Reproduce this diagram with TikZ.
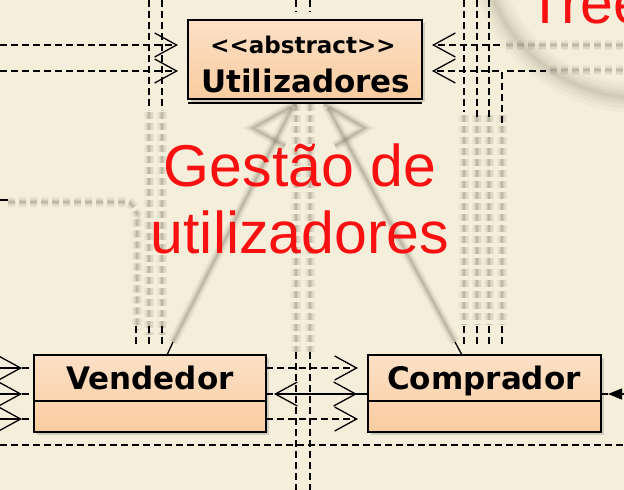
\documentclass[tikz,border=0pt]{standalone}
\usepackage{fontspec}
\setmainfont{Liberation Sans}
\newfontfamily\umlfont{DejaVu Sans}
\usetikzlibrary{arrows.meta,shadows,calc}
\definecolor{bg}{RGB}{245,238,218}
\definecolor{classtop}{RGB}{252,224,198}
\definecolor{classbot}{RGB}{249,204,160}
\definecolor{redtxt}{RGB}{250,16,16}
\definecolor{fuzzc}{RGB}{110,104,88}
\newcommand\fzline[2][]{\foreach \fw/\fo in {10/0.07,7/0.09,4/0.13,2/0.17}{\draw[fuzzc,line width=\fw pt,draw opacity=\fo,#1] #2;}}
\newcommand\fzring[1]{\foreach \fw/\fo in {30/0.04,22/0.05,14/0.06,8/0.07,3/0.07}{\draw[fuzzc,line width=\fw pt,draw opacity=\fo] #1;}}
\tikzset{
  dl/.style={line width=1.3pt, dash pattern=on 7pt off 4pt},
  sl/.style={line width=1.3pt},
  oarr/.style={-{Straight Barb[length=22pt,width=24pt,line width=1.3pt]}},
  farr/.style={-{Stealth[length=14pt,width=11pt,inset=0pt]}},
  umlclass/.style={draw=black, line width=1.6pt, top color=classtop, bottom color=classbot,
    inner sep=0pt, outer sep=0pt,
    drop shadow={opacity=0.3, shadow xshift=3pt, shadow yshift=-3pt}},
  umlname/.style={font=\umlfont\bfseries\fontsize{31}{36}\selectfont, inner sep=0pt},
  umlstereo/.style={font=\umlfont\bfseries\fontsize{23}{26}\selectfont, inner sep=0pt},
  bigred/.style={font=\fontsize{59}{67}\selectfont, text=redtxt, inner sep=0pt},
}
\begin{document}
\begin{tikzpicture}[x=1pt,y=-1pt]
\useasboundingbox (0,0) rectangle (624,490);
\clip (0,0) rectangle (624,490);
\fill[bg] (0,0) rectangle (624,490);

% lens circle top right (soft edge)
\fzring{(640,-60) circle (158)}

% blurred (out of focus) parts
\fzline[dash pattern=on 7pt off 4pt]{(149,112) -- (149,335)}
\fzline[dash pattern=on 7pt off 4pt]{(162,112) -- (162,335)}
\fzline[dash pattern=on 7pt off 4pt]{(8,202) -- (128,202) to[out=0,in=-90] (137,212) -- (137,330)}
\fzline[dash pattern=on 7pt off 4pt]{(296,104) -- (296,352)}
\fzline[dash pattern=on 7pt off 4pt]{(310,104) -- (310,352)}
\foreach \xx in {464,477,489,502}{\fzline[dash pattern=on 7pt off 4pt]{(\xx,115) -- (\xx,325)}}
\fzline{(173,342) -- (292,108)}
\fzline{(455,342) -- (328,108)}
\fzline{(296,104) -- (253,128) -- (285,146)}
\fzline{(324,104) -- (365,128) -- (335,146)}
\fzline[dash pattern=on 7pt off 4pt]{(506,45) -- (624,45)}
\fzline[dash pattern=on 7pt off 4pt]{(550,70) -- (624,70)}

% classes
\node[umlclass, minimum width=234pt, minimum height=79pt, anchor=north west] (U) at (188,20) {};
\draw[line width=1.8pt] ($(U.south west)+(0,4)$) -- ($(U.south east)+(0,4)$);
\node[umlstereo, anchor=base] (Us) at (303,53) {\symbol{60}\symbol{60}abstract\symbol{62}\symbol{62}};
\begin{scope}
  \clip (U.north west) rectangle (409,99);
  \node[umlname, anchor=base west] (Un) at (201,92) {Utilizadores};
\end{scope}

\node[umlclass, minimum width=232pt, minimum height=77pt, anchor=north west] (V) at (34,355) {};
\draw[line width=1.6pt] ($(V.north west)+(0,46)$) -- ($(V.north east)+(0,46)$);
\node[umlname, anchor=base] (Vn) at (150,389) {Vendedor};

\node[umlclass, minimum width=233pt, minimum height=77pt, anchor=north west] (C) at (368,355) {};
\draw[line width=1.6pt] ($(C.north west)+(0,46)$) -- ($(C.north east)+(0,46)$);
\node[umlname, anchor=base] (Cn) at (484,389) {Comprador};

% vertical dashed lines (top)
\foreach \xx/\ya/\yb in {149/0/110,162/0/110,464/0/112,477/0/118,489/0/120,296/0/12,310/0/12}{
  \draw[dl] (\xx,\ya) coordinate (vt\xx) -- (\xx,\yb) coordinate (vb\xx);}
% short dashes below blur
\foreach \xx in {136,149,162,464,477,489,502}{
  \draw[dl] (\xx,326) coordinate (st\xx) -- (\xx,346) coordinate (sb\xx);}
% verticals bottom middle
\foreach \xx in {296,310}{\draw[dl] (\xx,352) coordinate (mt\xx) -- (\xx,490) coordinate (mb\xx);}

% connectors at Utilizadores
\coordinate (a1) at (0,45); \coordinate (a2) at (0,71);
\draw[dl,oarr,shorten >=10pt] (a1) -- (a1 -| U.west);
\draw[dl,oarr,shorten >=10pt] (a2) -- (a2 -| U.west);
\coordinate (b1) at (500,45); \coordinate (b2) at (502,123);
\draw[dl,oarr,shorten >=10pt] (b1) -- (b1 -| U.east);
\draw[dl,oarr,shorten >=10pt] (b2) |- (a2 -| U.east);
\coordinate (b3) at (507,71); \coordinate (b4) at (546,71);
\draw[dl] (b3) -- (b4);
\draw[sl] (0,200) coordinate (k1) -- (8,200) coordinate (k2);

% stubs of generalizations
\draw[sl] ($(V.north west)+(133,0)$) coordinate (gv) -- ++(6,-13);
\draw[sl] ($(C.north west)+(94,0)$) coordinate (gc) -- ++(-7,-13);

% connectors between Vendedor and Comprador
\coordinate (y1) at (0,368); \coordinate (y2) at (0,394);
\coordinate (y3) at (0,419); \coordinate (y4) at (0,445);
\coordinate (y4e) at (624,445);
\draw[dl,oarr,shorten >=10pt] (y1 -| V.east) -- (y1 -| C.west);
\draw[dl,oarr,shorten >=8pt] (y2 -| C.west) -- (y2 -| V.east);
\draw[dl,oarr,shorten >=11pt] (y2 -| V.east) -- (y2 -| C.west);
\draw[sl] (y2 -| C.west) -- ++(-11,0);
\draw[dl,oarr,shorten >=10pt] (y3 -| V.east) -- (y3 -| C.west);
\draw[dl] (y4) -- (y4e);

% arrows into Vendedor from the left
\foreach \cc in {y1,y2,y3}{
  \draw[dl] (\cc) -- (\cc -| V.west);
  \draw[sl,oarr,shorten >=12pt] (\cc) -- (\cc -| V.west);}

% arrow at the right of Comprador
\coordinate (z) at (624,394);
\draw[sl,farr,shorten >=7pt] (z) -- (z -| C.east);
\draw[dl] (z -| C.east) -- ++(7,0);

% red labels
\node[bigred, anchor=base] (g1) at (300,186) {Gestão de};
\node[bigred, anchor=base] (g2) at (300,253) {utilizadores};
\node[bigred, anchor=base west] (tree) at (527,23) {Tree};
\end{tikzpicture}
\end{document}
